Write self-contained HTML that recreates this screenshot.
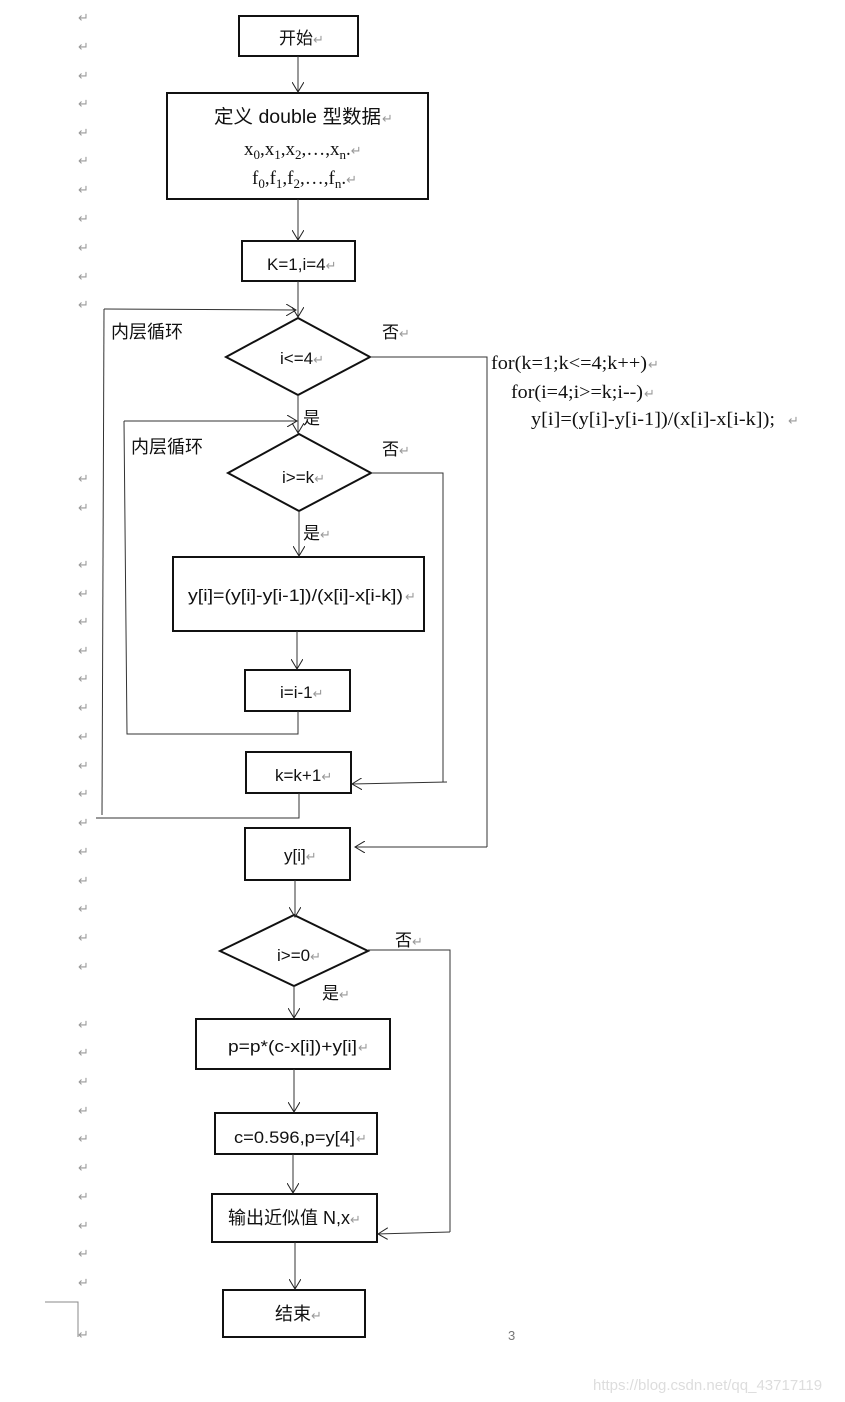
<!DOCTYPE html>
<html><head><meta charset="utf-8"><style>
html,body{margin:0;padding:0;background:#fff;}
svg{display:block;}
text{font-family:"Liberation Sans","Noto Sans CJK SC",sans-serif;font-size:17px;fill:#111;}
.s{font-family:"Liberation Serif","Noto Serif CJK SC",serif;}
.r{fill:#999;font-size:13px;}
</style></head><body>
<svg width="845" height="1402" viewBox="0 0 845 1402" xmlns="http://www.w3.org/2000/svg">
<defs><marker id="a" markerWidth="12" markerHeight="12" refX="10" refY="6" orient="auto" markerUnits="userSpaceOnUse"><path d="M0,0 L10,6 L0,12" fill="none" stroke="#222" stroke-width="1"/></marker></defs>
<g class="r">
<text x="78" y="22" class="r">↵</text><text x="78" y="51" class="r">↵</text><text x="78" y="80" class="r">↵</text><text x="78" y="108" class="r">↵</text><text x="78" y="137" class="r">↵</text><text x="78" y="165" class="r">↵</text><text x="78" y="194" class="r">↵</text><text x="78" y="223" class="r">↵</text><text x="78" y="252" class="r">↵</text><text x="78" y="281" class="r">↵</text><text x="78" y="309" class="r">↵</text>
<text x="78" y="483" class="r">↵</text><text x="78" y="512" class="r">↵</text><text x="78" y="569" class="r">↵</text><text x="78" y="598" class="r">↵</text><text x="78" y="626" class="r">↵</text><text x="78" y="655" class="r">↵</text><text x="78" y="683" class="r">↵</text><text x="78" y="712" class="r">↵</text><text x="78" y="741" class="r">↵</text><text x="78" y="770" class="r">↵</text><text x="78" y="798" class="r">↵</text><text x="78" y="827" class="r">↵</text><text x="78" y="856" class="r">↵</text><text x="78" y="885" class="r">↵</text><text x="78" y="913" class="r">↵</text><text x="78" y="942" class="r">↵</text><text x="78" y="971" class="r">↵</text>
<text x="78" y="1029" class="r">↵</text><text x="78" y="1057" class="r">↵</text><text x="78" y="1086" class="r">↵</text><text x="78" y="1115" class="r">↵</text><text x="78" y="1143" class="r">↵</text><text x="78" y="1172" class="r">↵</text><text x="78" y="1201" class="r">↵</text><text x="78" y="1230" class="r">↵</text><text x="78" y="1258" class="r">↵</text><text x="78" y="1287" class="r">↵</text><text x="78" y="1339" class="r">↵</text>
</g>
<g fill="none" stroke="#111" stroke-width="2">
<rect x="239" y="16" width="119" height="40"/>
<rect x="167" y="93" width="261" height="106"/>
<rect x="242" y="241" width="113" height="40"/>
<polygon points="226,357 298,318 370,357 298,395"/>
<polygon points="228,473 299,434 371,473 299,511"/>
<rect x="173" y="557" width="251" height="74"/>
<rect x="245" y="670" width="105" height="41"/>
<rect x="246" y="752" width="105" height="41"/>
<rect x="245" y="828" width="105" height="52"/>
<polygon points="220,951 294,915 368,951 294,986"/>
<rect x="196" y="1019" width="194" height="50"/>
<rect x="215" y="1113" width="162" height="41"/>
<rect x="212" y="1194" width="165" height="48"/>
<rect x="223" y="1290" width="142" height="47"/>
</g>
<g fill="none" stroke="#333" stroke-width="1">
<line x1="298" y1="56" x2="298" y2="92" marker-end="url(#a)"/>
<line x1="298" y1="199" x2="298" y2="240" marker-end="url(#a)"/>
<line x1="298" y1="281" x2="298" y2="317" marker-end="url(#a)"/>
<polyline points="299,793 299,818 96,818"/>
<line x1="102" y1="815" x2="104" y2="309"/>
<line x1="104" y1="309" x2="296" y2="310" marker-end="url(#a)"/>
<polyline points="370,357 487,357 487,847"/>
<line x1="487" y1="847" x2="355" y2="847" marker-end="url(#a)"/>
<line x1="298" y1="395" x2="298" y2="433" marker-end="url(#a)"/>
<polyline points="298,711 298,734 127,734 124,421"/>
<line x1="124" y1="421" x2="297" y2="421" marker-end="url(#a)"/>
<polyline points="371,473 443,473 443,782"/>
<line x1="447" y1="782" x2="352" y2="784" marker-end="url(#a)"/>
<line x1="299" y1="511" x2="299" y2="556" marker-end="url(#a)"/>
<line x1="297" y1="631" x2="297" y2="669" marker-end="url(#a)"/>
<line x1="295" y1="880" x2="295" y2="917" marker-end="url(#a)"/>
<polyline points="368,950 450,950 450,1232"/>
<line x1="450" y1="1232" x2="378" y2="1234" marker-end="url(#a)"/>
<line x1="294" y1="986" x2="294" y2="1018" marker-end="url(#a)"/>
<line x1="294" y1="1069" x2="294" y2="1112" marker-end="url(#a)"/>
<line x1="293" y1="1154" x2="293" y2="1193" marker-end="url(#a)"/>
<line x1="295" y1="1242" x2="295" y2="1289" marker-end="url(#a)"/>
<polyline points="45,1302 78,1302 78,1337" stroke="#888"/>
</g>
<text x="279" y="44">开始<tspan class="r">↵</tspan></text>
<text x="214" y="123" style="font-size:19px" textLength="167" lengthAdjust="spacingAndGlyphs">定义 double 型数据</text><text x="382" y="123" class="r">↵</text>
<text x="244" y="155" class="s" style="font-size:19px">x<tspan font-size="13" dy="4">0</tspan><tspan dy="-4">,x</tspan><tspan font-size="13" dy="4">1</tspan><tspan dy="-4">,x</tspan><tspan font-size="13" dy="4">2</tspan><tspan dy="-4">,…,x</tspan><tspan font-size="13" dy="4">n</tspan><tspan dy="-4">.</tspan><tspan class="r">↵</tspan></text>
<text x="252" y="184" class="s" style="font-size:19px">f<tspan font-size="13" dy="4">0</tspan><tspan dy="-4">,f</tspan><tspan font-size="13" dy="4">1</tspan><tspan dy="-4">,f</tspan><tspan font-size="13" dy="4">2</tspan><tspan dy="-4">,…,f</tspan><tspan font-size="13" dy="4">n</tspan><tspan dy="-4">.</tspan><tspan class="r">↵</tspan></text>
<text x="267" y="270">K=1,i=4<tspan class="r">↵</tspan></text>
<text x="111" y="338" style="font-size:18px">内层循环</text>
<text x="382" y="338">否<tspan class="r">↵</tspan></text>
<text x="280" y="364">i&lt;=4<tspan class="r">↵</tspan></text>
<text x="491" y="369" class="s" style="font-size:19px" textLength="156" lengthAdjust="spacingAndGlyphs">for(k=1;k&lt;=4;k++)</text><text x="648" y="369" class="r">↵</text>
<text x="511" y="398" class="s" style="font-size:19px" textLength="132" lengthAdjust="spacingAndGlyphs">for(i=4;i&gt;=k;i--)</text><text x="644" y="398" class="r">↵</text>
<text x="531" y="425" class="s" style="font-size:19px" textLength="244" lengthAdjust="spacingAndGlyphs">y[i]=(y[i]-y[i-1])/(x[i]-x[i-k]);</text><text x="788" y="425" class="r">↵</text>
<text x="303" y="424">是</text>
<text x="131" y="453" style="font-size:18px">内层循环</text>
<text x="382" y="455">否<tspan class="r">↵</tspan></text>
<text x="282" y="483">i&gt;=k<tspan class="r">↵</tspan></text>
<text x="303" y="539">是<tspan class="r">↵</tspan></text>
<text x="188" y="601" textLength="215" lengthAdjust="spacingAndGlyphs">y[i]=(y[i]-y[i-1])/(x[i]-x[i-k])</text><text x="405" y="601" class="r">↵</text>
<text x="280" y="698">i=i-1<tspan class="r">↵</tspan></text>
<text x="275" y="781">k=k+1<tspan class="r">↵</tspan></text>
<text x="284" y="861">y[i]<tspan class="r">↵</tspan></text>
<text x="395" y="946">否<tspan class="r">↵</tspan></text>
<text x="277" y="961">i&gt;=0<tspan class="r">↵</tspan></text>
<text x="322" y="999">是<tspan class="r">↵</tspan></text>
<text x="228" y="1052" textLength="129" lengthAdjust="spacingAndGlyphs">p=p*(c-x[i])+y[i]</text><text x="358" y="1052" class="r">↵</text>
<text x="234" y="1143" textLength="121" lengthAdjust="spacingAndGlyphs">c=0.596,p=y[4]</text><text x="356" y="1143" class="r">↵</text>
<text x="228" y="1224" style="font-size:18px">输出近似值 N,x<tspan class="r">↵</tspan></text>
<text x="275" y="1320" style="font-size:18px">结束<tspan class="r">↵</tspan></text>
<text x="508" y="1340" style="font-size:13px;fill:#777">3</text>
<text x="593" y="1390" style="font-size:15px;fill:#ddd">https://blog.csdn.net/qq_43717119</text>
</svg>
</body></html>
